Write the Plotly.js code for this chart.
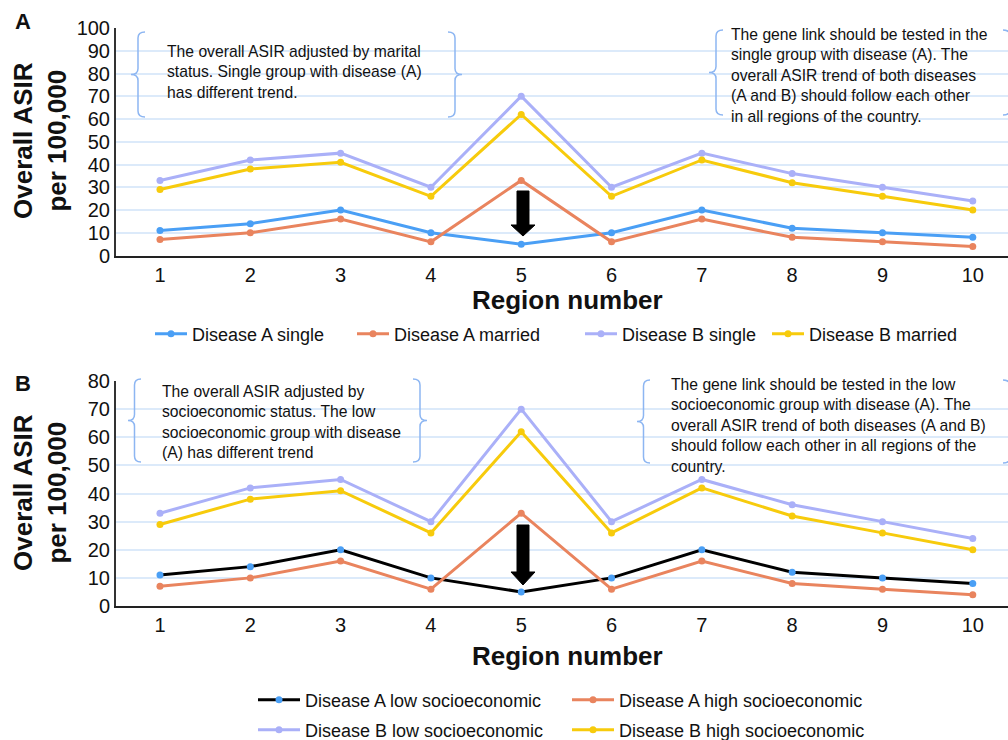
<!DOCTYPE html>
<html>
<head>
<meta charset="utf-8">
<script src="https://cdn.plot.ly/plotly-3.0.1.min.js"></script>
<style>html,body{margin:0;padding:0;background:#fff;}#chart{width:1008px;height:740px;}</style>
</head>
<body>
<div id="chart"></div>
<script>
// ---- data ----
const regions = [1, 2, 3, 4, 5, 6, 7, 8, 9, 10];
// Panel A (marital status)
const diseaseASingle  = [11, 14, 20, 10, 5, 10, 20, 12, 10, 8];
const diseaseAMarried = [7, 10, 16, 6, 33, 6, 16, 8, 6, 4];
const diseaseBSingle  = [33, 42, 45, 30, 70, 30, 45, 36, 30, 24];
const diseaseBMarried = [29, 38, 41, 26, 62, 26, 42, 32, 26, 20];
// Panel B (socioeconomic status)
const diseaseALowSES  = [11, 14, 20, 10, 5, 10, 20, 12, 10, 8];
const diseaseAHighSES = [7, 10, 16, 6, 33, 6, 16, 8, 6, 4];
const diseaseBLowSES  = [33, 42, 45, 30, 70, 30, 45, 36, 30, 24];
const diseaseBHighSES = [29, 38, 41, 26, 62, 26, 42, 32, 26, 20];
const tickLabels = ['1','2','3','4','5','6','7','8','9','10'];

// ---- styling ----
const W = 1008, H = 740;
const px = x => x / W;
const py = y => 1 - y / H;
const BLUE = '#4a9ff5', ORANGE = '#e9845e', LAV = '#aab0f8', YEL = '#f7cb0c';
const FONT = 'Arial, "Liberation Sans", sans-serif';

function tr(name, y, color, xa, ya, legend, markerColor) {
  return {
    x: regions, y: y, name: name, type: 'scatter', mode: 'lines+markers',
    xaxis: xa, yaxis: ya, legend: legend,
    line: {color: color, width: 3},
    marker: {color: markerColor || color, size: 7},
    hoverinfo: 'x+y+name'
  };
}

const data = [
  tr('Disease A single', diseaseASingle, BLUE, 'x', 'y', 'legend'),
  tr('Disease A married', diseaseAMarried, ORANGE, 'x', 'y', 'legend2'),
  tr('Disease B single', diseaseBSingle, LAV, 'x', 'y', 'legend3'),
  tr('Disease B married', diseaseBMarried, YEL, 'x', 'y', 'legend4'),
  tr('Disease A low socioeconomic', diseaseALowSES, '#000000', 'x2', 'y2', 'legend5', BLUE),
  tr('Disease A high socioeconomic', diseaseAHighSES, ORANGE, 'x2', 'y2', 'legend5'),
  tr('Disease B low socioeconomic', diseaseBLowSES, LAV, 'x2', 'y2', 'legend6'),
  tr('Disease B high socioeconomic', diseaseBHighSES, YEL, 'x2', 'y2', 'legend6')
];

const xBase = {
  domain: [px(116), 1], range: [0.513, 10.39], tickvals: regions, ticktext: tickLabels,
  showgrid: false, zeroline: false, showline: true, linecolor: '#222', linewidth: 2,
  ticks: '', tickfont: {family: FONT, size: 20, color: '#111'}, ticklabelstandoff: 0, fixedrange: true
};
const yBase = {
  showgrid: true, gridcolor: '#dceafa', gridwidth: 2, zeroline: false,
  showline: true, linecolor: '#333', linewidth: 2, ticks: '', dtick: 10,
  tickfont: {family: FONT, size: 20, color: '#111'}, ticklabelstandoff: 0, fixedrange: true
};

// brace helper (pixel coords -> paper path)
function brace(x0, x1, y0, y1, open) {
  const ym = (y0 + y1) / 2, xm = (x0 + x1) / 2, r = 6;
  const tip = open ? x1 : x0, pt = open ? x0 : x1;
  const P = (x, y) => px(x).toFixed(5) + ',' + py(y).toFixed(5);
  const d = 'M' + P(tip, y0) + ' Q' + P(xm, y0) + ' ' + P(xm, y0 + r) +
    ' L' + P(xm, ym - r) + ' Q' + P(xm, ym) + ' ' + P(pt, ym) +
    ' Q' + P(xm, ym) + ' ' + P(xm, ym + r) +
    ' L' + P(xm, y1 - r) + ' Q' + P(xm, y1) + ' ' + P(tip, y1);
  return {type: 'path', xref: 'paper', yref: 'paper', path: d, line: {color: '#8db6f2', width: 1.5}};
}
function arrow(cx, yTop, yHeadStart, yTip) {
  const P = (x, y) => px(x).toFixed(5) + ',' + py(y).toFixed(5);
  const d = 'M' + P(cx - 6, yTop) + ' L' + P(cx + 6, yTop) + ' L' + P(cx + 6, yHeadStart) +
    ' L' + P(cx + 12, yHeadStart) + ' L' + P(cx, yTip) + ' L' + P(cx - 12, yHeadStart) +
    ' L' + P(cx - 6, yHeadStart) + ' Z';
  return {type: 'path', xref: 'paper', yref: 'paper', path: d, fillcolor: '#000', line: {color: '#000', width: 1}};
}

const shapes = [
  brace(131, 145, 32, 117, true), brace(448, 462, 32, 117, false),
  brace(709, 723, 30, 115, true), brace(1003, 1017, 30, 115, false),
  brace(128, 141, 379, 462, true), brace(413, 427, 379, 462, false),
  brace(637, 650, 380, 463, true), brace(1003, 1017, 380, 463, false),
  arrow(523, 191, 225, 236),
  arrow(523, 525, 572, 585)
];

const noteFont = {family: FONT, size: 15.7, color: '#111'};
function note(text, x, yTop) {
  return {xref: 'paper', yref: 'paper', x: px(x), y: py(yTop), xanchor: 'left', yanchor: 'top',
    align: 'left', showarrow: false, text: text, font: noteFont};
}
function label(text, x, y, font, angle) {
  return {xref: 'paper', yref: 'paper', x: px(x), y: py(y), xanchor: 'center', yanchor: 'middle',
    showarrow: false, text: text, font: font, textangle: angle || 0};
}
const titleFont = {family: FONT, size: 26, color: '#111'};
const panelFont = {family: FONT, size: 22, color: '#111'};
const annotations = [
  label('<b>A</b>', 23, 21, panelFont),
  label('<b>B</b>', 23, 383, panelFont),
  label('<b>Overall ASIR<br>per 100,000</b>', 40, 141, titleFont, -90),
  label('<b>Overall ASIR<br>per 100,000</b>', 40, 493, titleFont, -90),
  label('<b>Region number</b>', 567, 300, titleFont),
  label('<b>Region number</b>', 567, 656, titleFont),
  note('The overall ASIR adjusted by marital<br>status. Single group with disease (A)<br>has different trend.', 165, 41),
  note('The gene link should be tested in the<br>single group with disease (A). The<br>overall ASIR trend of both diseases<br>(A and B) should follow each other<br>in all regions of the country.', 729, 24),
  note('The overall ASIR adjusted by<br>socioeconomic status. The low<br>socioeconomic group with disease<br>(A) has different trend', 160, 381),
  note('The gene link should be tested in the low<br>socioeconomic group with disease (A). The<br>overall ASIR trend of both diseases (A and B)<br>should follow each other in all regions of the<br>country.', 669, 374)
];

const legFont = {family: FONT, size: 18, color: '#111'};
function leg(x, y, extra) {
  return Object.assign({orientation: 'h', x: px(x), y: py(y), xanchor: 'left', yanchor: 'middle',
    font: legFont, bgcolor: 'rgba(0,0,0,0)'}, extra || {});
}
const layout = {
  width: W, height: H, margin: {l: 0, r: 0, t: 0, b: 0, autoexpand: false},
  paper_bgcolor: '#fff', plot_bgcolor: '#fff',
  xaxis: Object.assign({}, xBase, {anchor: 'y'}),
  yaxis: Object.assign({}, yBase, {domain: [py(255.5), py(28)], range: [0, 100], anchor: 'x'}),
  xaxis2: Object.assign({}, xBase, {anchor: 'y2'}),
  yaxis2: Object.assign({}, yBase, {domain: [py(606), py(381)], range: [0, 80], anchor: 'x2'}),
  legend: leg(150, 334, {itemwidth: 32}),
  legend2: leg(352, 334, {itemwidth: 32}),
  legend3: leg(580, 334, {itemwidth: 32}),
  legend4: leg(767, 334, {itemwidth: 32}),
  legend5: leg(253, 700, {itemwidth: 42, entrywidth: 257}),
  legend6: leg(253, 730, {itemwidth: 42, entrywidth: 257}),
  shapes: shapes,
  annotations: annotations,
  showlegend: true
};

Plotly.newPlot('chart', data, layout, {displayModeBar: false});
</script>
</body>
</html>
